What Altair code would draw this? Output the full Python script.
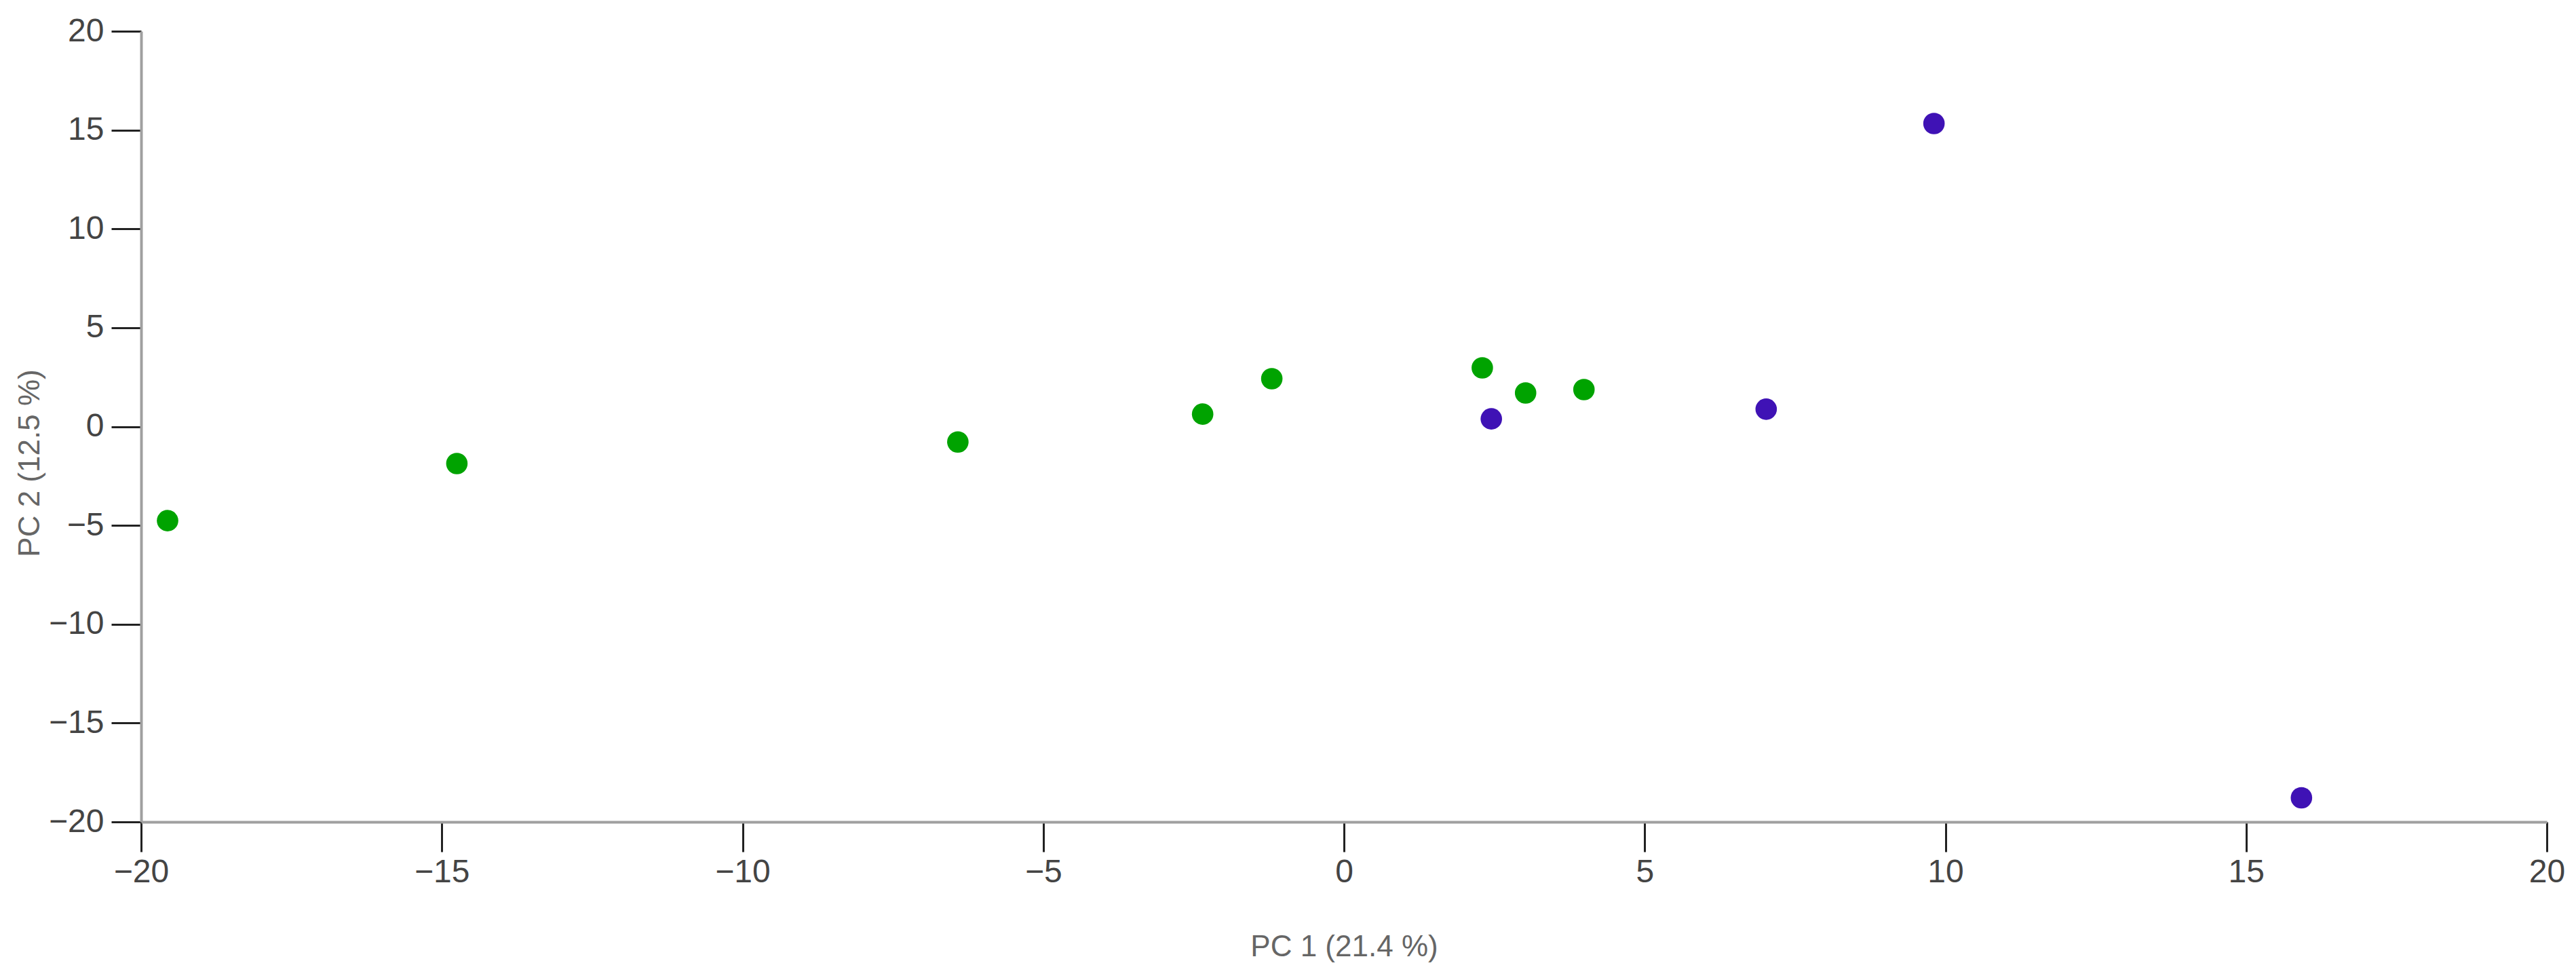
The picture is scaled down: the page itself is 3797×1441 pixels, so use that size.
import altair as alt
import pandas as pd

pc1 = [-19.56, -14.75, -6.42, -2.35, -1.20, 2.30, 3.02, 3.99,
       2.45, 7.02, 9.81, 15.92]
pc2 = [-4.76, -1.87, -0.78, 0.63, 2.42, 2.97, 1.70, 1.87,
       0.39, 0.88, 15.33, -18.78]
group = ["A"] * 8 + ["B"] * 4
groups = ["A", "B"]
colors = ["#00a300", "#3f12b5"]

df = pd.DataFrame({"pc1": pc1, "pc2": pc2, "group": group})

FONT = "Liberation Sans"

chart = alt.Chart(df).mark_circle(size=1000, opacity=1).encode(
    x=alt.X("pc1:Q", scale=alt.Scale(domain=[-20, 20], nice=False, zero=False),
            axis=alt.Axis(title="PC 1 (21.4 %)", values=list(range(-20, 21, 5)),
                          grid=False, domainColor="#a0a0a0", domainWidth=4,
                          tickColor="#222222", tickWidth=3, tickSize=44,
                          labelFont=FONT, labelFontSize=48, labelColor="#444444",
                          labelPadding=6, titleFont=FONT, titleFontSize=44,
                          titleFontWeight="normal", titleColor="#666666",
                          titlePadding=64, labelFlush=False)),
    y=alt.Y("pc2:Q", scale=alt.Scale(domain=[-20, 20], nice=False, zero=False),
            axis=alt.Axis(title="PC 2 (12.5 %)", values=list(range(-20, 21, 5)),
                          grid=False, domainColor="#a0a0a0", domainWidth=4,
                          tickColor="#222222", tickWidth=3, tickSize=44,
                          labelFont=FONT, labelFontSize=48, labelColor="#444444",
                          labelPadding=11, titleFont=FONT, titleFontSize=44,
                          titleFontWeight="normal", titleColor="#666666",
                          titleX=-164, titleY=636, titleAngle=-90,
                          titleAlign="center", titleBaseline="middle",
                          labelFlush=False)),
    color=alt.Color("group:N", scale=alt.Scale(domain=groups, range=colors), legend=None),
).properties(
    width=3546, height=1165,
    autosize=alt.AutoSizeParams(type="none"),
    padding={"left": 200, "top": 38, "right": 30, "bottom": 222},
).configure_view(stroke=None)

chart.save("out.html", embed_options={"renderer": "svg", "actions": False})
